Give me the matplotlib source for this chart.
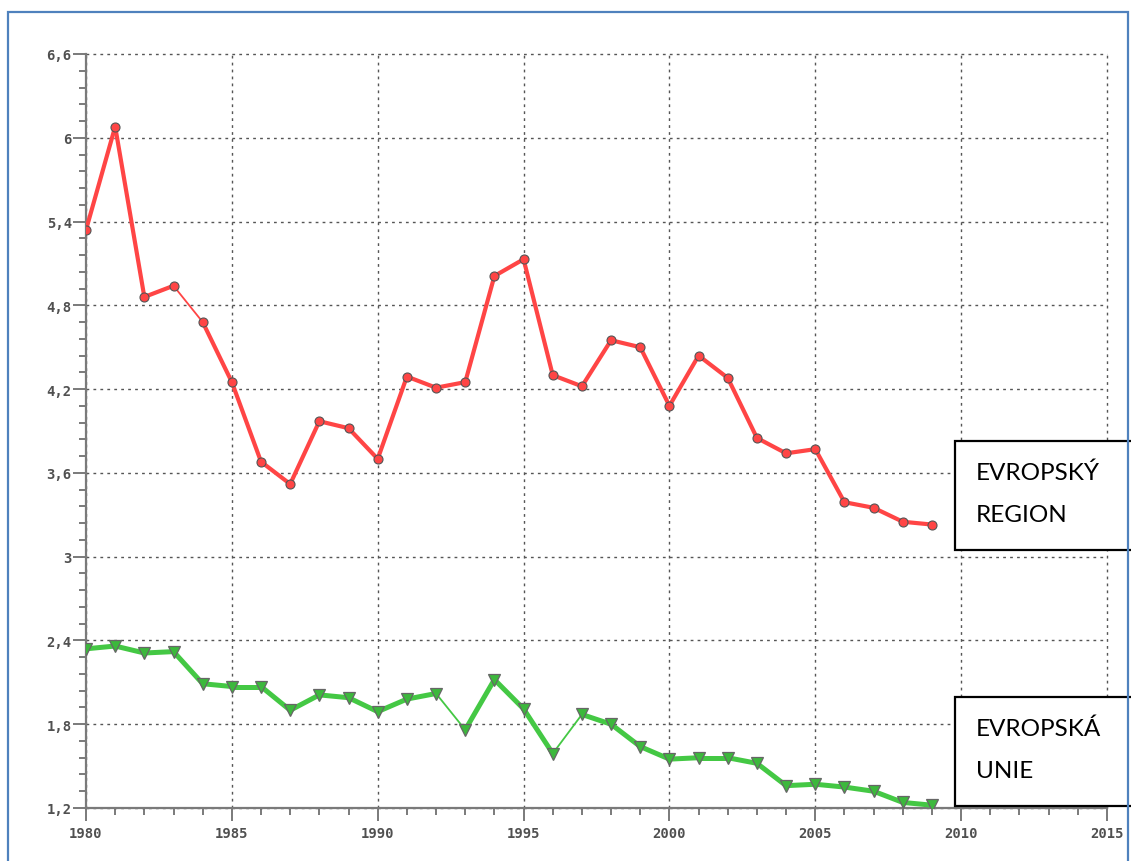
import numpy as np
import matplotlib.pyplot as plt
from matplotlib.patches import Rectangle
from matplotlib.ticker import FuncFormatter, MultipleLocator

# years and values
years = list(range(1980, 2010))
region = [5.34, 6.08, 4.86, 4.94, 4.68, 4.25, 3.68, 3.52, 3.97, 3.92,
          3.70, 4.29, 4.21, 4.25, 5.01, 5.13, 4.30, 4.22, 4.55, 4.50,
          4.08, 4.44, 4.28, 3.85, 3.74, 3.77, 3.39, 3.35, 3.25, 3.23]
union = [2.34, 2.36, 2.31, 2.32, 2.09, 2.07, 2.07, 1.90, 2.01, 1.99,
         1.89, 1.98, 2.02, 1.76, 2.12, 1.91, 1.59, 1.87, 1.80, 1.64,
         1.55, 1.56, 1.56, 1.52, 1.36, 1.37, 1.35, 1.32, 1.24, 1.22]
label_region = ["EVROPSKÝ", "REGION"]
label_union = ["EVROPSKÁ", "UNIE"]

# segments that the original draws with a thin stroke (start year)
thin_region = [1983]
thin_union = [1992, 1996]

W, H = 1131, 862
fig = plt.figure(figsize=(W / 100, H / 100), dpi=100)
ax = fig.add_axes([86 / W, 1 - 809 / H, (1107 - 86) / W, (809 - 55) / H])

ax.set_xlim(1980, 2015)
ax.set_ylim(1.2, 6.6)
ax.xaxis.set_major_locator(MultipleLocator(5))
ax.xaxis.set_minor_locator(MultipleLocator(1))
ax.yaxis.set_major_locator(MultipleLocator(0.6))
ax.yaxis.set_minor_locator(MultipleLocator(0.12))
ax.yaxis.set_major_formatter(FuncFormatter(lambda v, p: f"{v:g}".replace(".", ",")))

ax.grid(True, which="major", linestyle=(0, (2, 3)), color="#555555", linewidth=1)
for gl in ax.get_xgridlines() + ax.get_ygridlines():
    gl.set_clip_on(False)
for s in ["top", "right"]:
    ax.spines[s].set_visible(False)
for s in ["left", "bottom"]:
    ax.spines[s].set_color("#7a7a7a")
    ax.spines[s].set_linewidth(1.6)
ax.tick_params(axis="x", which="major", pad=4)
ax.tick_params(axis="y", which="major", pad=1)
ax.tick_params(which="major", length=9.3, width=1.3, color="#707070",
               labelsize=10, labelcolor="#505050")
ax.tick_params(which="minor", length=5, width=1.3, color="#707070")
for t in ax.get_xticklabels() + ax.get_yticklabels():
    t.set_family("DejaVu Sans Mono")
    t.set_fontweight("bold")


def draw_series(y, thin, color, lw):
    for i in range(len(years) - 1):
        w = 1.3 if years[i] in thin else lw
        ax.plot(years[i:i + 2], y[i:i + 2], color=color, linewidth=w,
                solid_capstyle="round", zorder=3)


draw_series(region, thin_region, "#ff4545", 3.0)
ax.plot(years, region, linestyle="none", marker="o", markersize=6.5,
        markerfacecolor="#ff4545", markeredgecolor="#555555", markeredgewidth=0.8, zorder=4)

draw_series(union, thin_union, "#44c844", 3.6)
ax.plot(years, union, linestyle="none", marker="v", markersize=8.5,
        markerfacecolor="#3cb83c", markeredgecolor="#666666", markeredgewidth=0.9, zorder=4)

# label boxes on the right
for top, lines in [(442, label_region), (698, label_union)]:
    fig.patches.append(Rectangle((955 / W, 1 - (top + 109) / H), 200 / W, 109 / H,
                                 transform=fig.transFigure, facecolor="white",
                                 edgecolor="black", linewidth=1.6, zorder=10))
    for k, line in enumerate(lines):
        fig.text(976 / W, 1 - (top + 38.5 + 41.5 * k) / H, line, fontsize=17.5,
                 family="Lato", va="baseline", ha="left", zorder=11)

# blue frame around the whole picture
fig.patches.append(Rectangle((8 / W, -0.05), (1128 - 8) / W, 1.05 - 13 / H,
                             transform=fig.transFigure, fill=False,
                             edgecolor="#4f81bd", linewidth=1.6, zorder=12))

fig.savefig("out.png", dpi=100)
